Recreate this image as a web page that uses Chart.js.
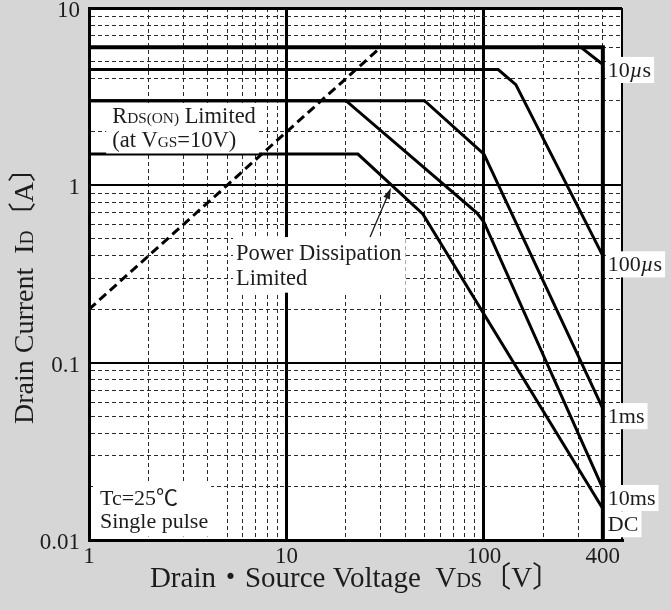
<!DOCTYPE html>
<html>
<head>
<meta charset="utf-8">
<script src="https://cdn.jsdelivr.net/npm/chart.js@4.4.1/dist/chart.umd.min.js"></script>
<style>
  html, body { margin: 0; padding: 0; background: #d6d6d6; }
  #wrap { width: 671px; height: 610px; position: relative; }
</style>
</head>
<body>
<div id="wrap"><canvas id="soa"></canvas></div>
<script>
// Safe operating area, Tc = 25°C, single pulse
const xTickValues = [1, 10, 100, 400];
const xTickLabels = ['1', '10', '100', '400'];
const yTickValues = [0.01, 0.1, 1, 10];
const yTickLabels = ['0.01', '0.1', '1', '10'];

// breakpoints, VDS [V] and ID [A]
const limitV = [1, 400, 400];
const limitI = [6, 6, 0.01];
const us10V = [310, 400];
const us10I = [6, 4.8];
const us100V = [1, 118, 145, 400];
const us100I = [4.5, 4.5, 3.7, 0.4];
const ms1V = [1, 50, 100, 400];
const ms1I = [3, 3, 1.5, 0.055];
const ms10V = [1, 20, 92, 100, 400];
const ms10I = [3, 3, 0.7, 0.62, 0.0195];
const dcV = [1, 23, 49, 400];
const dcI = [1.5, 1.5, 0.69, 0.015];
const rdsV = [1, 30];
const rdsI = [0.2, 6];

const X_MIN = 1, X_MAX = 500, Y_MIN = 0.01, Y_MAX = 10;
const SERIF = '"Liberation Serif", "Noto Sans CJK JP", serif';
const INK = '#1c1c1c';

function pts(xs, ys) { return xs.map((x, i) => ({ x: x, y: ys[i] })); }
function near(a, b) { return Math.abs(Math.log10(a) - Math.log10(b)) < 1e-6; }

function decadeGrid(min, max) {
  const out = [];
  for (let e = Math.floor(Math.log10(min)); Math.pow(10, e) <= max; e++) {
    for (let m = 1; m <= 9; m++) {
      const v = parseFloat((m * Math.pow(10, e)).toPrecision(6));
      if (v >= min && v <= max) out.push(v);
    }
  }
  return out;
}

function labelFor(values, labels, v) {
  const i = values.findIndex(t => near(t, v));
  return i < 0 ? '' : labels[i];
}

// rich text: segments with relative size / italic
function segFont(size, sg) {
  return (sg.it ? 'italic ' : '') + (size * (sg.s || 1)).toFixed(1) + 'px ' + SERIF;
}
function richWidth(ctx, segs, size) {
  let w = 0;
  segs.forEach(sg => { ctx.font = segFont(size, sg); w += ctx.measureText(sg.t).width; });
  return w;
}
function drawRich(ctx, segs, x, y, size) {
  segs.forEach(sg => {
    ctx.font = segFont(size, sg);
    ctx.fillText(sg.t, x, y);
    x += ctx.measureText(sg.t).width;
  });
}
function textBlock(ctx, lines, left, base, size, gap, pad) {
  const w = Math.max(...lines.map(l => richWidth(ctx, l, size)));
  const top = base - size * 0.8 - pad[1];
  const bottom = base + (lines.length - 1) * gap + size * 0.25 + pad[3];
  ctx.fillStyle = '#fff';
  ctx.fillRect(left - pad[0], top, w + pad[0] + pad[2], bottom - top);
  ctx.fillStyle = INK;
  ctx.textBaseline = 'alphabetic';
  ctx.textAlign = 'left';
  lines.forEach((l, i) => drawRich(ctx, l, left, base + i * gap, size));
}

const endLabels = [
  { v: us10V, i: us10I, dy: 12, segs: [{ t: '10' }, { t: 'µ', it: true }, { t: 's' }] },
  { v: us100V, i: us100I, dy: 15, segs: [{ t: '100' }, { t: 'µ', it: true }, { t: 's' }] },
  { v: ms1V, i: ms1I, dy: 14, segs: [{ t: '1ms' }] },
  { v: ms10V, i: ms10I, dy: 16, segs: [{ t: '10ms' }] },
  { v: dcV, i: dcI, dy: 22, segs: [{ t: 'DC' }] }
];

const paperPlugin = {
  id: 'paper',
  beforeDraw(chart) {
    const { ctx, chartArea: a } = chart;
    ctx.save();
    ctx.fillStyle = '#fff';
    ctx.fillRect(a.left, a.top, a.right - a.left, a.bottom - a.top);
    ctx.restore();
  },
  afterDraw(chart) {
    const { ctx, chartArea: a } = chart;
    const xs = chart.scales.x, ys = chart.scales.y;
    const px = v => xs.getPixelForValue(v);
    const py = v => ys.getPixelForValue(v);
    ctx.save();

    // annotations
    textBlock(ctx, [
      [{ t: 'R' }, { t: 'DS(ON)', s: 0.68 }, { t: ' Limited' }],
      [{ t: '(at V' }, { t: 'GS', s: 0.68 }, { t: '=10V)' }]
    ], px(1.31), py(2.25), 22.5, 24, [6, 1, 3, 1]);

    textBlock(ctx, [
      [{ t: 'Power Dissipation' }],
      [{ t: 'Limited' }]
    ], px(5.55), py(0.379), 22.5, 25, [3, 5, 4, 2]);

    textBlock(ctx, [
      [{ t: 'Tc=25℃' }],
      [{ t: 'Single pulse' }]
    ], px(1.137), py(0.01574), 22, 23, [7, 6, 3, 3]);

    // arrow to the DC power-limited segment
    const x0 = px(26.5), y0 = py(0.511), x1 = px(33.8), y1 = py(0.966);
    const ang = Math.atan2(y1 - y0, x1 - x0);
    ctx.strokeStyle = INK;
    ctx.lineWidth = 1.3;
    ctx.beginPath();
    ctx.moveTo(x0, y0);
    ctx.lineTo(x1 - 8 * Math.cos(ang), y1 - 8 * Math.sin(ang));
    ctx.stroke();
    ctx.fillStyle = INK;
    ctx.beginPath();
    ctx.moveTo(x1, y1);
    ctx.lineTo(x1 - 11 * Math.cos(ang) + 3.5 * Math.sin(ang), y1 - 11 * Math.sin(ang) - 3.5 * Math.cos(ang));
    ctx.lineTo(x1 - 11 * Math.cos(ang) - 3.5 * Math.sin(ang), y1 - 11 * Math.sin(ang) + 3.5 * Math.cos(ang));
    ctx.closePath();
    ctx.fill();

    // curve labels at 400 V
    endLabels.forEach(l => {
      const n = l.v.length - 1;
      textBlock(ctx, [l.segs], px(l.v[n]) + 5, py(l.i[n]) + l.dy, 22, 0, [2, 2, 3, 1]);
    });

    // axis titles
    ctx.fillStyle = INK;
    const xt = [{ t: 'Drain・Source Voltage  V' }, { t: 'DS', s: 0.7 }, { t: '〔V〕' }];
    const xw = richWidth(ctx, xt, 29);
    drawRich(ctx, xt, (a.left + a.right) / 2 - xw / 2, chart.height - 23, 29);

    const yt = [{ t: 'Drain Current  I' }, { t: 'D', s: 0.7 }, { t: '〔A〕' }];
    const yw = richWidth(ctx, yt, 28);
    ctx.translate(33, (a.top + a.bottom) / 2 + 15);
    ctx.rotate(-Math.PI / 2);
    drawRich(ctx, yt, -yw / 2, 0, 28);
    ctx.restore();
  }
};

const xGrid = decadeGrid(X_MIN, X_MAX);
const yGrid = decadeGrid(Y_MIN, Y_MAX);

function xLine(v) {
  if (near(v, 10) || near(v, 100) || near(v, X_MIN)) return 3;
  if (near(v, X_MAX)) return 2;
  return 1;
}
function yLine(v) {
  if (near(v, Y_MIN) || near(v, Y_MAX)) return 3;
  if (near(v, 1) || near(v, 0.1)) return 2;
  return 1;
}

function lineSet(label, data, extra) {
  return Object.assign({
    label: label, data: data, borderColor: '#000', backgroundColor: '#000',
    borderWidth: 3, pointRadius: 0, tension: 0, fill: false
  }, extra || {});
}

new Chart(document.getElementById('soa'), {
  type: 'line',
  data: {
    datasets: [
      lineSet('limit', pts(limitV, limitI), { borderWidth: 4 }),
      lineSet('10µs', pts(us10V, us10I)),
      lineSet('100µs', pts(us100V, us100I)),
      lineSet('1ms', pts(ms1V, ms1I)),
      lineSet('10ms', pts(ms10V, ms10I)),
      lineSet('DC', pts(dcV, dcI)),
      lineSet('RDS(ON) Limited', pts(rdsV, rdsI), { borderDash: [9, 5] })
    ]
  },
  options: {
    responsive: true,
    maintainAspectRatio: false,
    animation: false,
    events: [],
    layout: { padding: { top: 8, right: 49, bottom: 0, left: 0 } },
    plugins: { legend: { display: false }, tooltip: { enabled: false } },
    scales: {
      x: {
        type: 'logarithmic',
        min: X_MIN,
        max: X_MAX,
        afterBuildTicks: s => { s.ticks = xGrid.map(v => ({ value: v })); },
        afterFit: s => { s.height = 70; s.paddingLeft = 0; s.paddingRight = 0; },
        grid: {
          drawTicks: false,
          color: c => (c.tick && xLine(c.tick.value) > 1 ? '#000' : '#2a2a2a'),
          lineWidth: c => (c.tick ? xLine(c.tick.value) : 1)
        },
        border: {
          display: true, width: 3, color: '#000',
          dash: c => (c.tick && xLine(c.tick.value) === 1 ? [4, 3] : [])
        },
        ticks: {
          autoSkip: false,
          maxRotation: 0,
          padding: 3,
          color: INK,
          font: { family: SERIF, size: 23 },
          callback: v => labelFor(xTickValues, xTickLabels, v)
        }
      },
      y: {
        type: 'logarithmic',
        min: Y_MIN,
        max: Y_MAX,
        afterBuildTicks: s => { s.ticks = yGrid.map(v => ({ value: v })); },
        afterFit: s => { s.width = 89; s.paddingTop = 0; s.paddingBottom = 0; },
        grid: {
          drawTicks: false,
          color: c => (c.tick && yLine(c.tick.value) > 1 ? '#000' : '#2a2a2a'),
          lineWidth: c => (c.tick ? yLine(c.tick.value) : 1)
        },
        border: {
          display: true, width: 3, color: '#000',
          dash: c => (c.tick && yLine(c.tick.value) === 1 ? [4, 3] : [])
        },
        ticks: {
          autoSkip: false,
          padding: 9,
          labelOffset: 3,
          color: INK,
          font: { family: SERIF, size: 23 },
          callback: v => labelFor(yTickValues, yTickLabels, v)
        }
      }
    }
  },
  plugins: [paperPlugin]
});
</script>
</body>
</html>
